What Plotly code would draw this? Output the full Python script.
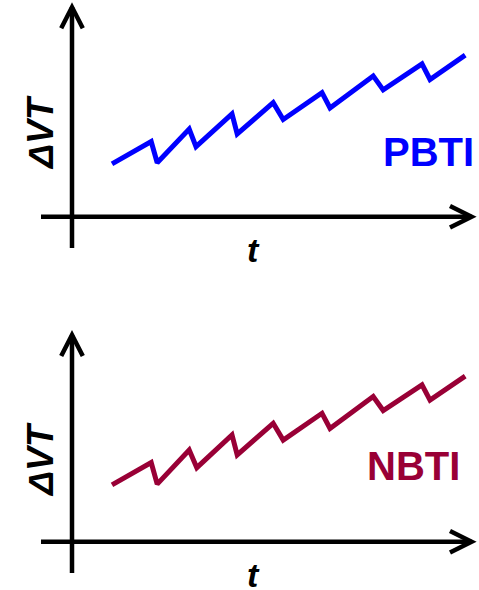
import plotly.graph_objects as go

# Data (abstract units: t and ΔVT)
t_pbti = [10.0, 19.8, 21.3, 29.3, 31.0, 40.0, 41.3, 50.3, 52.8, 62.5, 64.5, 75.3, 77.8, 87.5, 89.5, 98.3]
dvt_pbti = [13.2, 18.8, 13.5, 21.9, 17.5, 25.7, 20.7, 28.5, 24.3, 31.0, 27.2, 35.2, 31.7, 38.2, 34.3, 40.4]
t_nbti = [10.0, 19.8, 21.3, 29.3, 31.2, 40.0, 41.3, 50.3, 52.8, 62.5, 64.5, 75.3, 77.8, 87.5, 89.5, 98.3]
dvt_nbti = [14.2, 19.8, 14.4, 22.9, 18.5, 26.7, 21.7, 29.6, 25.4, 32.1, 28.3, 36.3, 32.8, 39.2, 35.4, 41.4]
labels = ["PBTI", "NBTI"]
colors = ["#0000FF", "#990036"]

FONT = "Liberation Sans, Arial, sans-serif"

fig = go.Figure()
fig.add_trace(go.Scatter(x=t_pbti, y=dvt_pbti, mode="lines", xaxis="x", yaxis="y",
                         line=dict(color=colors[0], width=5), hoverinfo="skip"))
fig.add_trace(go.Scatter(x=t_nbti, y=dvt_nbti, mode="lines", xaxis="x2", yaxis="y2",
                         line=dict(color=colors[1], width=5), hoverinfo="skip"))

ax_common = dict(visible=False, fixedrange=True)
fig.update_layout(
    width=479, height=590,
    margin=dict(l=0, r=0, t=0, b=0),
    paper_bgcolor="white", plot_bgcolor="white",
    showlegend=False,
    xaxis=dict(domain=[0, 1], range=[-18, 101.75], anchor="y", **ax_common),
    yaxis=dict(domain=[0.5, 1], range=[-19.575, 54.175], anchor="x", **ax_common),
    xaxis2=dict(domain=[0, 1], range=[-18, 101.75], anchor="y2", **ax_common),
    yaxis2=dict(domain=[0, 0.5], range=[-12.075, 61.675], anchor="x2", **ax_common),
)

shapes = []
annotations = []
panels = [("x", "y", 52.4), ("x2", "y2", 51.7)]
for i, (xr, yr, ytip) in enumerate(panels):
    lw = 4.5
    ln = dict(color="black", width=lw)
    # axes lines
    shapes.append(dict(type="line", xref=xr, yref=yr, x0=0, x1=0, y0=-7.8, y1=ytip, line=ln))
    shapes.append(dict(type="line", xref=xr, yref=yr, x0=-7.75, x1=99.9, y0=0, y1=0, line=ln))
    # arrow heads (chevrons)
    shapes.append(dict(type="path", xref=xr, yref=yr,
                       path=f"M -2.7,{ytip-5.3} L 0,{ytip} L 2.7,{ytip-5.3}", line=ln))
    shapes.append(dict(type="path", xref=xr, yref=yr,
                       path="M 94.5,2.7 L 99.9,0 L 94.5,-2.7", line=ln))

annotations += [
    dict(xref="x", yref="y", x=-8, y=20.9, text="<b><i>ΔVT</i></b>", textangle=-90,
         showarrow=False, font=dict(family=FONT, size=36, color="black")),
    dict(xref="x", yref="y", x=45.25, y=-8.3, text="<b><i>t</i></b>",
         showarrow=False, font=dict(family=FONT, size=34, color="black")),
    dict(xref="x", yref="y", x=89, y=16.3, text=f"<b>{labels[0]}</b>",
         showarrow=False, font=dict(family=FONT, size=40, color=colors[0])),
    dict(xref="x2", yref="y2", x=-8, y=20.4, text="<b><i>ΔVT</i></b>", textangle=-90,
         showarrow=False, font=dict(family=FONT, size=36, color="black")),
    dict(xref="x2", yref="y2", x=45.25, y=-8.2, text="<b><i>t</i></b>",
         showarrow=False, font=dict(family=FONT, size=34, color="black")),
    dict(xref="x2", yref="y2", x=85.25, y=19.0, text=f"<b>{labels[1]}</b>",
         showarrow=False, font=dict(family=FONT, size=40, color=colors[1])),
]

fig.update_layout(shapes=shapes, annotations=annotations)
fig.write_html("out.html", config={"displayModeBar": False, "staticPlot": True})
